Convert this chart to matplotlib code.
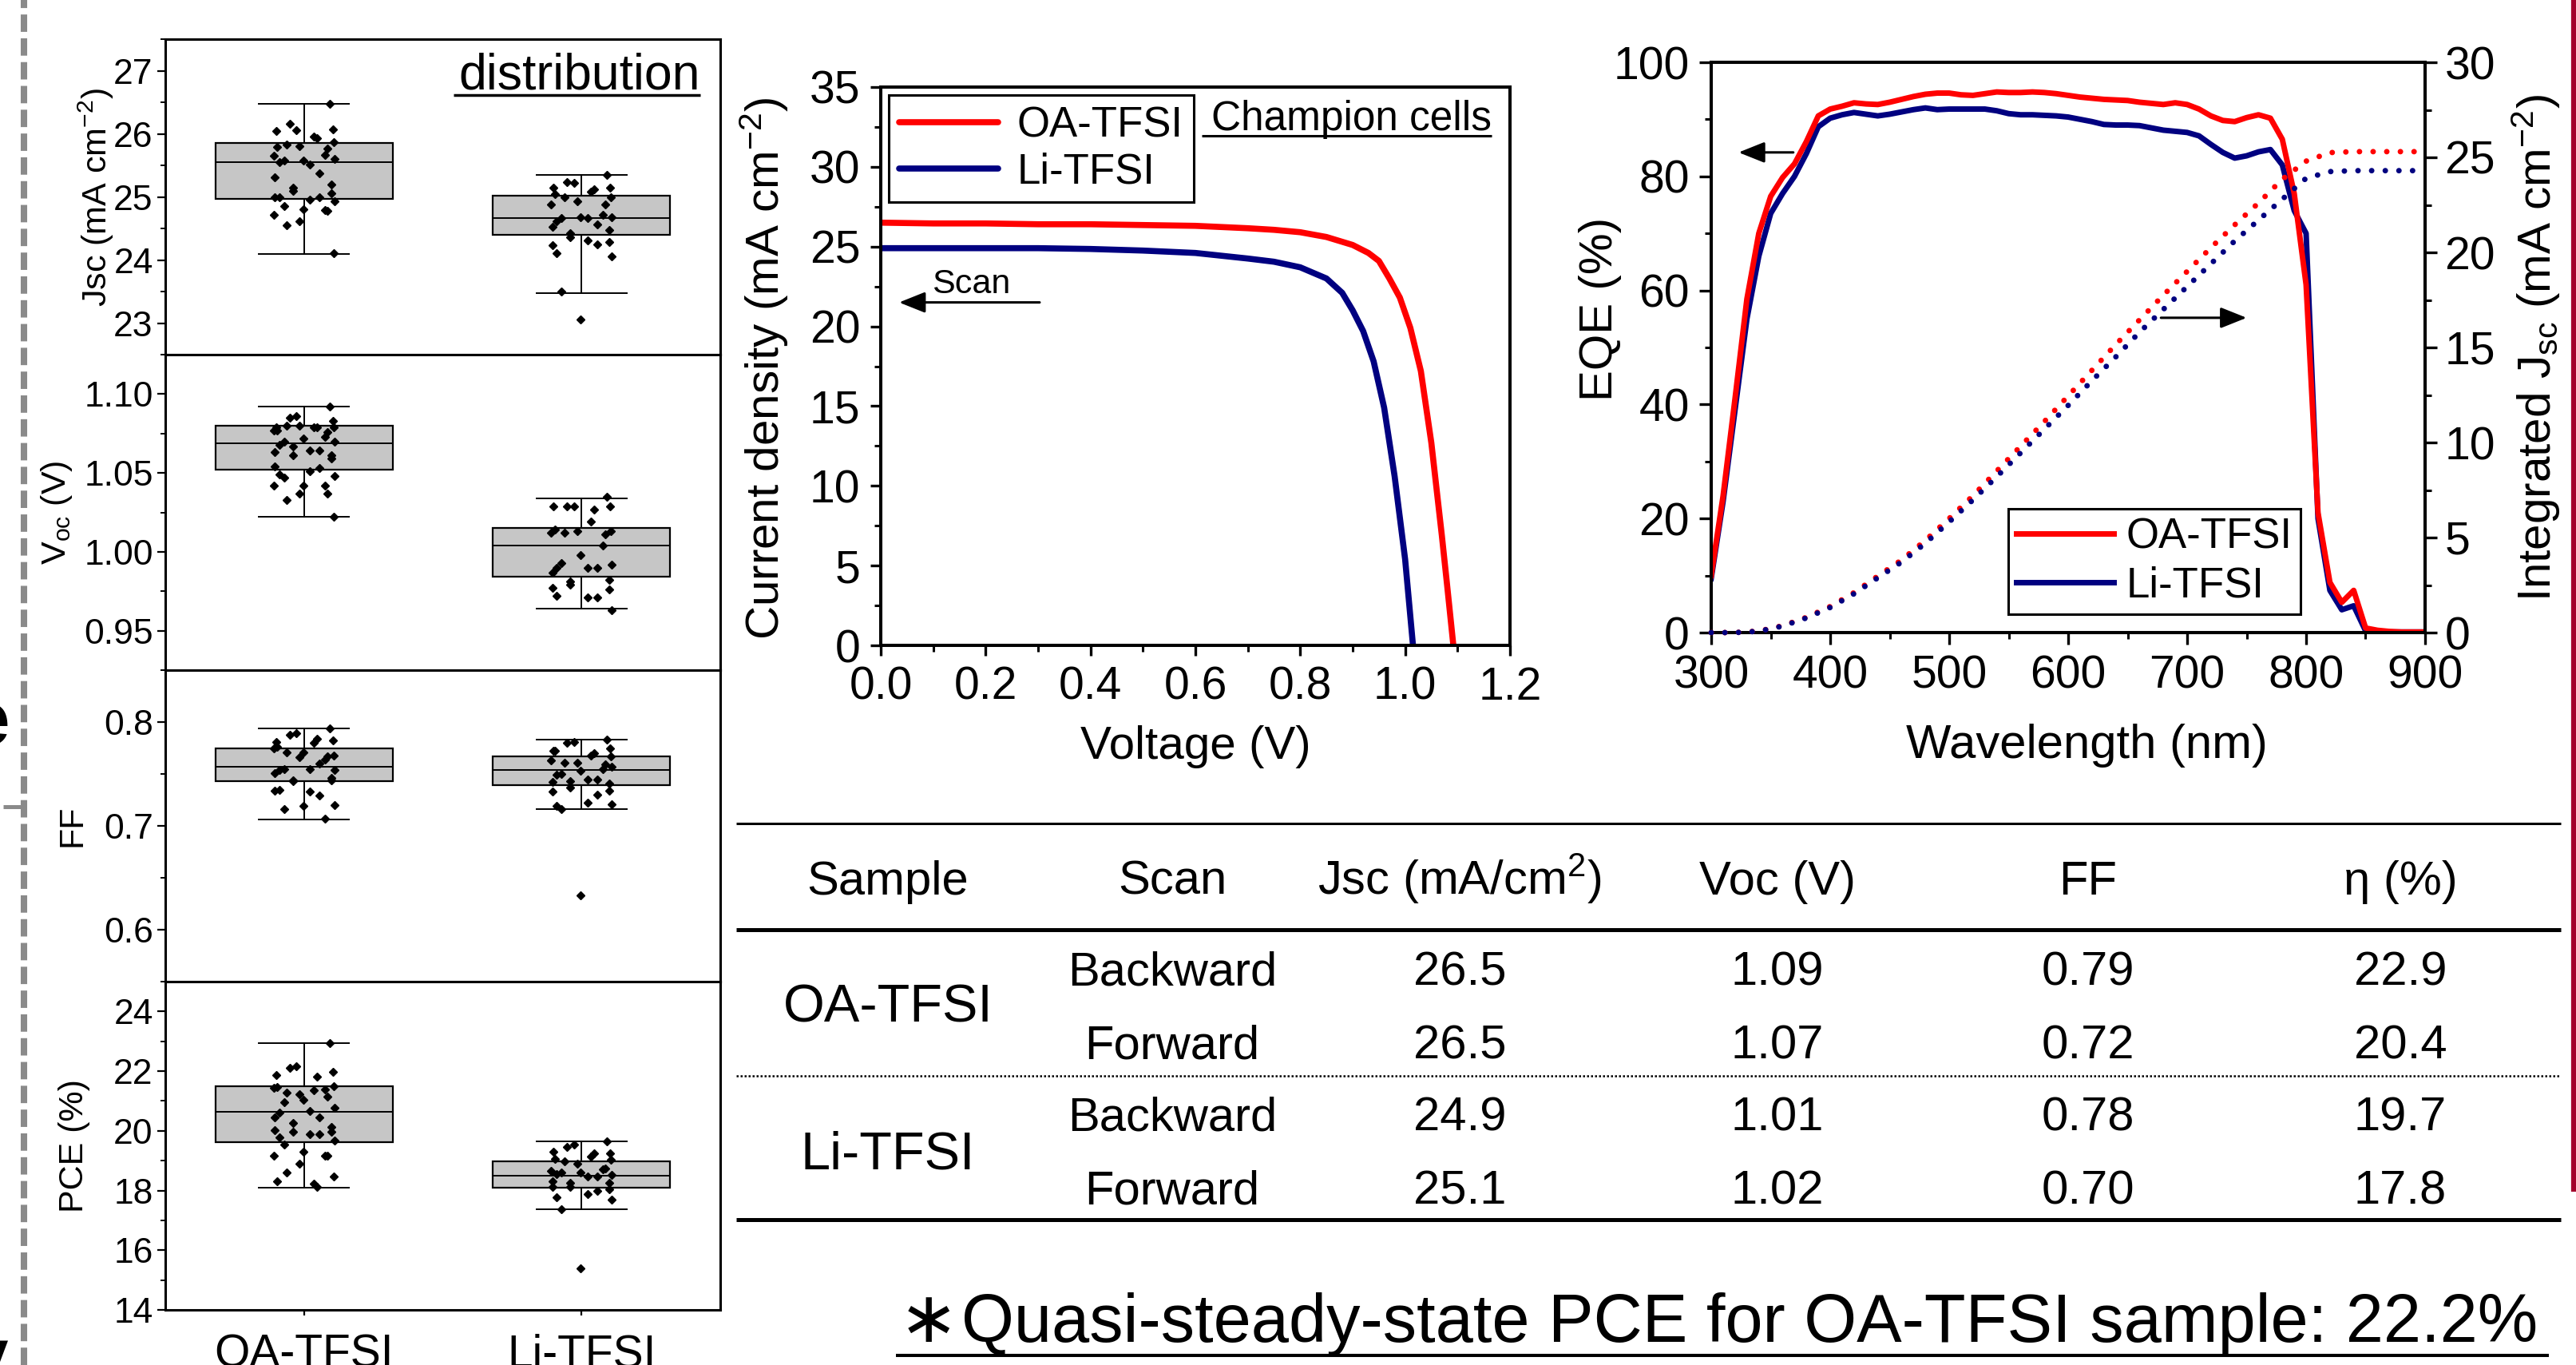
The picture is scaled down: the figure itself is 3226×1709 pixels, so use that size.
import numpy as np
import matplotlib
matplotlib.use("Agg")
import matplotlib.pyplot as plt
from matplotlib.lines import Line2D
from matplotlib.ticker import MultipleLocator, FormatStrFormatter

plt.rcParams['font.family'] = ['Liberation Sans', 'DejaVu Sans']
plt.rcParams['mathtext.default'] = 'regular'

W, H = 3226, 1709
RED = '#ff0000'
NAVY = '#000080'

# ---------------- box plot data ----------------
groups = ['OA-TFSI', 'Li-TFSI']

jsc_oa = [26.48, 26.06, 26.16, 26.07, 26.05, 25.93, 25.96, 25.79, 25.87, 25.83, 25.80, 25.76, 25.65,
          25.67, 25.57, 25.57, 25.60, 25.55, 25.51, 25.37, 25.31, 25.19, 25.14, 25.09, 25.06, 25.00,
          24.99, 24.95, 24.99, 24.93, 24.85, 24.81, 24.79, 24.72, 24.78, 24.61, 24.55, 24.11]
jsc_li = [25.35, 25.22, 25.24, 25.15, 25.14, 25.12, 25.08, 25.04, 25.00, 24.99, 24.93, 24.88, 24.88,
          24.72, 24.68, 24.66, 24.68, 24.61, 24.66, 24.56, 24.52, 24.47, 24.43, 24.36, 24.29, 24.23,
          24.25, 24.31, 24.11, 24.06, 23.50, 23.06]
voc_oa = [1.092, 1.086, 1.085, 1.083, 1.079, 1.079, 1.079, 1.077, 1.079, 1.080, 1.080, 1.076, 1.077,
          1.073, 1.072, 1.070, 1.070, 1.068, 1.064, 1.064, 1.063, 1.061, 1.061, 1.067, 1.059, 1.054,
          1.053, 1.051, 1.049, 1.048, 1.047, 1.042, 1.042, 1.042, 1.037, 1.037, 1.033, 1.022]
voc_li = [1.035, 1.029, 1.029, 1.029, 1.029, 1.027, 1.019, 1.014, 1.013, 1.012, 1.013, 1.011, 1.012,
          1.004, 0.998, 0.993, 0.992, 0.990, 0.990, 0.990, 0.987, 0.982, 0.981, 0.979, 0.976, 0.977,
          0.971, 0.971, 0.972, 0.963]
ff_oa = [0.794, 0.789, 0.788, 0.782, 0.781, 0.784, 0.780, 0.776, 0.768, 0.771, 0.766, 0.767, 0.775,
         0.764, 0.771, 0.755, 0.754, 0.754, 0.755, 0.760, 0.751, 0.746, 0.744, 0.743, 0.744, 0.734,
         0.729, 0.733, 0.735, 0.720, 0.716, 0.719, 0.707]
ff_li = [0.783, 0.781, 0.780, 0.775, 0.772, 0.770, 0.768, 0.772, 0.767, 0.761, 0.761, 0.759, 0.763,
         0.755, 0.753, 0.750, 0.757, 0.749, 0.745, 0.745, 0.742, 0.741, 0.743, 0.737, 0.734, 0.733,
         0.730, 0.722, 0.719, 0.721, 0.716, 0.633]
pce_oa = [22.95, 22.17, 22.12, 21.98, 21.88, 21.81, 21.37, 21.48, 21.50, 21.29, 21.22, 21.15, 21.43,
          21.40, 21.04, 20.96, 20.78, 20.60, 20.66, 20.46, 20.45, 20.12, 20.27, 19.97, 19.97, 20.01,
          19.90, 19.90, 19.78, 19.68, 19.53, 19.29, 19.17, 19.17, 19.17, 18.90, 18.60, 18.46, 18.32,
          18.22, 18.11]
pce_li = [19.65, 19.53, 19.46, 19.24, 19.29, 19.24, 19.14, 19.05, 19.02, 18.99, 18.90, 18.74, 18.67,
          18.70, 18.60, 18.60, 18.53, 18.55, 18.46, 18.46, 18.32, 18.26, 18.11, 18.26, 18.04, 18.11,
          18.00, 17.88, 17.78, 17.70, 17.37, 15.39]

# whisker low, Q1, median, Q3, whisker high
jsc_stats = ([24.10, 24.97, 25.55, 25.85, 26.47], [23.48, 24.40, 24.66, 25.02, 25.35])
voc_stats = ([1.022, 1.052, 1.069, 1.080, 1.092], [0.964, 0.984, 1.004, 1.015, 1.034])
ff_stats = ([0.706, 0.743, 0.757, 0.775, 0.794], [0.716, 0.739, 0.754, 0.767, 0.783])
pce_stats = ([18.10, 19.63, 20.65, 21.49, 22.93], [17.37, 18.10, 18.50, 18.98, 19.65])

# ---------------- J-V data ----------------
v_oa = [0, 0.1, 0.2, 0.3, 0.4, 0.5, 0.6, 0.7, 0.75, 0.8, 0.85, 0.9, 0.93, 0.95, 0.97, 0.99,
        1.01, 1.03, 1.05, 1.07, 1.08, 1.092]
j_oa = [26.5, 26.45, 26.45, 26.4, 26.4, 26.35, 26.3, 26.15, 26.05, 25.9, 25.6, 25.1, 24.6, 24.1,
        23.0, 21.8, 19.9, 17.2, 12.7, 6.9, 3.8, 0.0]
v_li = [0, 0.1, 0.2, 0.3, 0.4, 0.5, 0.6, 0.7, 0.75, 0.8, 0.85, 0.88, 0.9, 0.92, 0.94, 0.96, 0.98,
        1.0, 1.015]
j_li = [24.9, 24.9, 24.9, 24.9, 24.85, 24.75, 24.6, 24.25, 24.05, 23.7, 23.0, 22.1, 21.0, 19.7,
        17.8, 14.9, 10.6, 5.4, 0.0]

# ---------------- EQE data ----------------
wl = list(range(300, 901, 10))
eqe_oa = [10, 24, 41, 58.5, 70, 76.5, 79.8, 82.2, 86.1, 90.6, 91.8, 92.3, 92.9, 92.7, 92.6, 93.0,
          93.5, 94.0, 94.4, 94.6, 94.6, 94.3, 94.2, 94.5, 94.8, 94.7, 94.7, 94.8, 94.7, 94.5, 94.2,
          93.9, 93.7, 93.5, 93.4, 93.3, 93.0, 92.8, 92.6, 92.9, 92.6, 91.8, 90.6, 89.8, 89.6, 90.3,
          90.8, 90.2, 86.5, 77, 61, 21, 8.8, 5.3, 7.4, 0.8, 0.4, 0.2, 0.1, 0.1, 0.1]
eqe_li = [9.5, 23, 39, 55, 66, 73.5, 77, 80, 84, 88.7, 90.2, 90.8, 91.2, 90.9, 90.6, 90.9, 91.3,
          91.7, 92.0, 91.7, 91.8, 91.8, 91.8, 91.8, 91.5, 91.0, 90.8, 90.8, 90.7, 90.6, 90.4, 90.0,
          89.6, 89.1, 89.0, 89.0, 88.9, 88.5, 88.1, 87.9, 87.7, 87.1, 85.6, 84.2, 83.2, 83.6, 84.3,
          84.7, 82.0, 74, 70, 20, 7.4, 4.0, 4.7, 0.3, 0.1, 0.1, 0.1, 0.1, 0.1]
wl_int = list(range(300, 901, 20))
int_oa = [0, 0, 0.08, 0.36, 0.8, 1.37, 2.1, 2.97, 3.82, 4.85, 6.0, 7.2, 8.5, 9.8, 11.1, 12.45,
          13.8, 15.15, 16.45, 17.75, 19.0, 20.25, 21.45, 22.6, 23.85, 24.8, 25.25, 25.3, 25.3,
          25.3, 25.3]
int_li = [0, 0, 0.07, 0.34, 0.77, 1.32, 2.04, 2.88, 3.71, 4.7, 5.82, 6.98, 8.2, 9.45, 10.7, 11.95,
          13.25, 14.5, 15.8, 17.0, 18.2, 19.4, 20.6, 21.7, 22.8, 23.9, 24.25, 24.3, 24.3, 24.3, 24.3]

# ---------------- table ----------------
tab_header = ['Sample', 'Scan', 'Jsc (mA/cm$^2$)', 'Voc (V)', 'FF', 'η (%)']
tab_samples = ['OA-TFSI', 'Li-TFSI']
tab_scan = ['Backward', 'Forward', 'Backward', 'Forward']
tab_jsc = [26.5, 26.5, 24.9, 25.1]
tab_voc = [1.09, 1.07, 1.01, 1.02]
tab_ff = [0.79, 0.72, 0.78, 0.70]
tab_eta = [22.9, 20.4, 19.7, 17.8]
note = 'Quasi-steady-state PCE for OA-TFSI sample: 22.2%'

fig = plt.figure(figsize=(W / 100, H / 100), dpi=100)


def fx(x):
    return x / W


def fy(y):
    return 1 - y / H


def px_axes(l, t, r, b):
    return fig.add_axes([l / W, 1 - b / H, (r - l) / W, (b - t) / H])


def hline(x0, x1, y, lw, color='k', ls='-'):
    fig.add_artist(Line2D([fx(x0), fx(x1)], [fy(y), fy(y)], color=color, lw=lw, ls=ls,
                          transform=fig.transFigure, solid_capstyle='butt'))


def jitter(n, spread=0.11):
    return spread * np.sin(np.arange(n) * 2.399 + 1.0)


# ---------------- box plots ----------------
panels = [
    (jsc_oa, jsc_li, jsc_stats, (22.5, 27.5), 1, 0.5, '%d', 'Jsc (mA cm$^{-2}$)', -0.125),
    (voc_oa, voc_li, voc_stats, (0.925, 1.125), 0.05, 0.025, '%.2f', 'V$_{oc}$ (V)', -0.195),
    (ff_oa, ff_li, ff_stats, (0.55, 0.85), 0.1, 0.05, '%.1f', 'FF', -0.168),
    (pce_oa, pce_li, pce_stats, (14, 25), 2, 1, '%d', 'PCE (%)', -0.164),
]
edges = [49, 444, 839, 1229, 1640]
for i, (oa, li, st, ylim, maj, mnr, fmt, lab, labx) in enumerate(panels):
    ax = px_axes(207, edges[i], 902, edges[i + 1])
    stats = [dict(whislo=s[0], q1=s[1], med=s[2], q3=s[3], whishi=s[4], fliers=[]) for s in st]
    ax.bxp(stats, positions=[1, 2], widths=0.64, capwidths=0.325, patch_artist=True,
           showfliers=False, manage_ticks=False,
           boxprops=dict(facecolor='#c6c6c6', edgecolor='k', linewidth=1.6),
           medianprops=dict(color='k', linewidth=1.4),
           whiskerprops=dict(color='k', linewidth=1.4),
           capprops=dict(color='k', linewidth=1.4))
    for pos, vals in zip([1, 2], [oa, li]):
        ax.plot(pos + jitter(len(vals)), vals, 'D', color='k', ms=4.8, ls='none', zorder=5)
    ax.set_xlim(0.5, 2.5)
    ax.set_ylim(*ylim)
    ax.yaxis.set_major_locator(MultipleLocator(maj))
    ax.yaxis.set_minor_locator(MultipleLocator(mnr))
    ax.yaxis.set_major_formatter(FormatStrFormatter(fmt))
    ax.tick_params(axis='y', which='major', direction='out', length=7, width=1.6, labelsize=32, pad=4)
    ax.tick_params(axis='y', which='minor', direction='out', length=4, width=1.4)
    for sp in ax.spines.values():
        sp.set_linewidth(2.2)
    ax.text(labx, 0.5, lab, transform=ax.transAxes, rotation=90, ha='center', va='center',
            fontsize=31)
    if i == 3:
        ax.set_xticks([1, 2])
        ax.set_xticklabels(groups)
        ax.tick_params(axis='x', direction='out', length=5, width=1.6, labelsize=41, pad=16)
    else:
        ax.set_xticks([])

fig.text(fx(877), fy(112), 'distribution', ha='right', va='baseline', fontsize=45)
hline(568, 877, 119, 2.5)

# ---------------- J-V ----------------
ax_jv = px_axes(1103, 109, 1891, 808)
ax_jv.plot(v_oa, j_oa, color=RED, lw=5.5, label='OA-TFSI', solid_capstyle='round')
ax_jv.plot(v_li, j_li, color=NAVY, lw=5.5, label='Li-TFSI', solid_capstyle='round')
ax_jv.set_xlim(0, 1.2)
ax_jv.set_ylim(0, 35)
ax_jv.xaxis.set_major_locator(MultipleLocator(0.2))
ax_jv.xaxis.set_minor_locator(MultipleLocator(0.1))
ax_jv.xaxis.set_major_formatter(FormatStrFormatter('%.1f'))
ax_jv.yaxis.set_major_locator(MultipleLocator(5))
ax_jv.yaxis.set_minor_locator(MultipleLocator(2.5))
ax_jv.tick_params(which='major', direction='out', length=9.5, width=2.4, labelsize=41, pad=9)
ax_jv.tick_params(which='minor', direction='out', length=5.5, width=2.2)
for sp in ax_jv.spines.values():
    sp.set_linewidth(2.9)
ax_jv.text(-0.185, 0.496, 'Current density (mA cm$^{-2}$)', transform=ax_jv.transAxes,
           rotation=90, ha='center', va='center', fontsize=42)
ax_jv.text(0.5, -0.182, 'Voltage (V)', transform=ax_jv.transAxes, ha='center', va='center',
           fontsize=42)
leg = ax_jv.legend(loc='upper left', bbox_to_anchor=(0.0127, 0.9857), borderaxespad=0,
                   fontsize=38, frameon=True, fancybox=False, edgecolor='k', framealpha=1,
                   handlelength=2.35, handletextpad=0.45, borderpad=0.25, labelspacing=0.15)
leg.get_frame().set_linewidth(2.2)
fig.text(fx(1868), fy(163), 'Champion cells', ha='right', va='baseline', fontsize=37)
hline(1505, 1868, 170, 2.2)
ax_jv.text(0.172, 22.1, 'Scan', ha='center', va='baseline', fontsize=31)
ax_jv.annotate('', xy=(0.035, 21.5), xytext=(0.303, 21.5),
               arrowprops=dict(arrowstyle='-|>,head_length=1.0,head_width=0.4', color='k',
                               lw=2.2, mutation_scale=20, shrinkA=0, shrinkB=0))

# ---------------- EQE ----------------
ax_eqe = px_axes(2143, 78, 3037, 792)
ax_int = ax_eqe.twinx()
l_li, = ax_eqe.plot(wl, eqe_li, color=NAVY, lw=5, label='Li-TFSI')
l_oa, = ax_eqe.plot(wl, eqe_oa, color=RED, lw=5, label='OA-TFSI')
dots = (0, (0.01, 2.45))
ax_int.plot(wl_int, int_oa, color=RED, lw=5, ls=dots, dash_capstyle='round', clip_on=False,
            zorder=3)
ax_int.plot(wl_int, int_li, color=NAVY, lw=5, ls=dots, dash_capstyle='round', clip_on=False,
            zorder=3)
ax_eqe.set_xlim(300, 900)
ax_eqe.set_ylim(0, 100)
ax_int.set_ylim(0, 30)
ax_eqe.xaxis.set_major_locator(MultipleLocator(100))
ax_eqe.xaxis.set_minor_locator(MultipleLocator(50))
ax_eqe.yaxis.set_major_locator(MultipleLocator(20))
ax_eqe.yaxis.set_minor_locator(MultipleLocator(10))
ax_int.yaxis.set_major_locator(MultipleLocator(5))
ax_int.yaxis.set_minor_locator(MultipleLocator(2.5))
for a in (ax_eqe, ax_int):
    a.tick_params(which='major', direction='out', length=10.5, width=2.4, labelsize=41, pad=9)
    a.tick_params(which='minor', direction='out', length=6, width=2.2)
    for sp in a.spines.values():
        sp.set_linewidth(2.9)
ax_int.tick_params(axis='y', pad=7)
ax_eqe.text(-0.1555, 0.567, 'EQE (%)', transform=ax_eqe.transAxes, rotation=90,
            ha='center', va='center', fontsize=42)
ax_eqe.text(1.1555, 0.4986, 'Integrated J$_{sc}$ (mA cm$^{-2}$)', transform=ax_eqe.transAxes,
            rotation=90, ha='center', va='center', fontsize=42)
ax_eqe.text(0.526, -0.1975, 'Wavelength (nm)', transform=ax_eqe.transAxes, ha='center',
            va='center', fontsize=43)
leg2 = ax_int.legend(handles=[l_oa, l_li], loc='upper left', bbox_to_anchor=(0.416, 0.217),
                     borderaxespad=0, fontsize=38, frameon=True, fancybox=False, edgecolor='k',
                     framealpha=1, handlelength=2.3, handletextpad=0.3, borderpad=0.2,
                     labelspacing=0.2)
leg2.get_frame().set_linewidth(2.2)
leg2.set_zorder(5)
arrow = dict(arrowstyle='-|>,head_length=1.0,head_width=0.4', color='k', lw=2.2,
             mutation_scale=20, shrinkA=0, shrinkB=0)
ax_eqe.annotate('', xy=(323, 84.2), xytext=(369, 84.2), arrowprops=arrow)
ax_eqe.annotate('', xy=(750, 55.2), xytext=(678, 55.2), arrowprops=arrow)

# ---------------- table ----------------
col_x = [1112, 1468, 1828, 2226, 2615, 3006]
for cx, txt in zip(col_x, tab_header):
    fig.text(fx(cx), fy(1120), txt, ha='center', va='baseline', fontsize=43)
row_y = [1233, 1326, 1416, 1507]
for k in range(4):
    vals = [tab_scan[k], '%.1f' % tab_jsc[k], '%.2f' % tab_voc[k], '%.2f' % tab_ff[k],
            '%.1f' % tab_eta[k]]
    for cx, txt in zip(col_x[1:], vals):
        fig.text(fx(cx), fy(row_y[k]), txt, ha='center', va='baseline', fontsize=43)
for sy, name in zip([1280, 1464], tab_samples):
    fig.text(fx(1112), fy(sy), name, ha='center', va='baseline', fontsize=48)
hline(922, 3207, 1031, 2.2)
hline(922, 3207, 1164, 3.6)
hline(922, 3207, 1347, 1.8, ls=(0, (1, 1)))
hline(922, 3207, 1527, 3.6)

fig.text(fx(1163), fy(1680), '∗', family='DejaVu Sans', ha='center', va='baseline', fontsize=64)
fig.text(fx(1204), fy(1680), note, ha='left', va='baseline', fontsize=61)
hline(1122, 3192, 1697, 2.9)

# ---------------- page decorations ----------------
fig.add_artist(Line2D([fx(30), fx(30)], [0, 1], color='#8a8a8a', lw=5.8, ls=(0, (2.7, 1.0)),
                      transform=fig.transFigure, dash_capstyle='butt'))
hline(4, 30, 1010, 3.6, color='#8a8a8a')
fig.add_artist(Line2D([fx(3223), fx(3223)], [fy(0), fy(1492)], color='#a3002b', lw=4.5,
                      transform=fig.transFigure, solid_capstyle='butt'))
fig.text(fx(12), fy(908), 'e', ha='right', va='center', fontsize=68, fontweight='bold')
fig.text(fx(10), fy(1662), 'y', ha='right', va='top', fontsize=60, fontweight='bold')

fig.savefig('out.png', dpi=100)
